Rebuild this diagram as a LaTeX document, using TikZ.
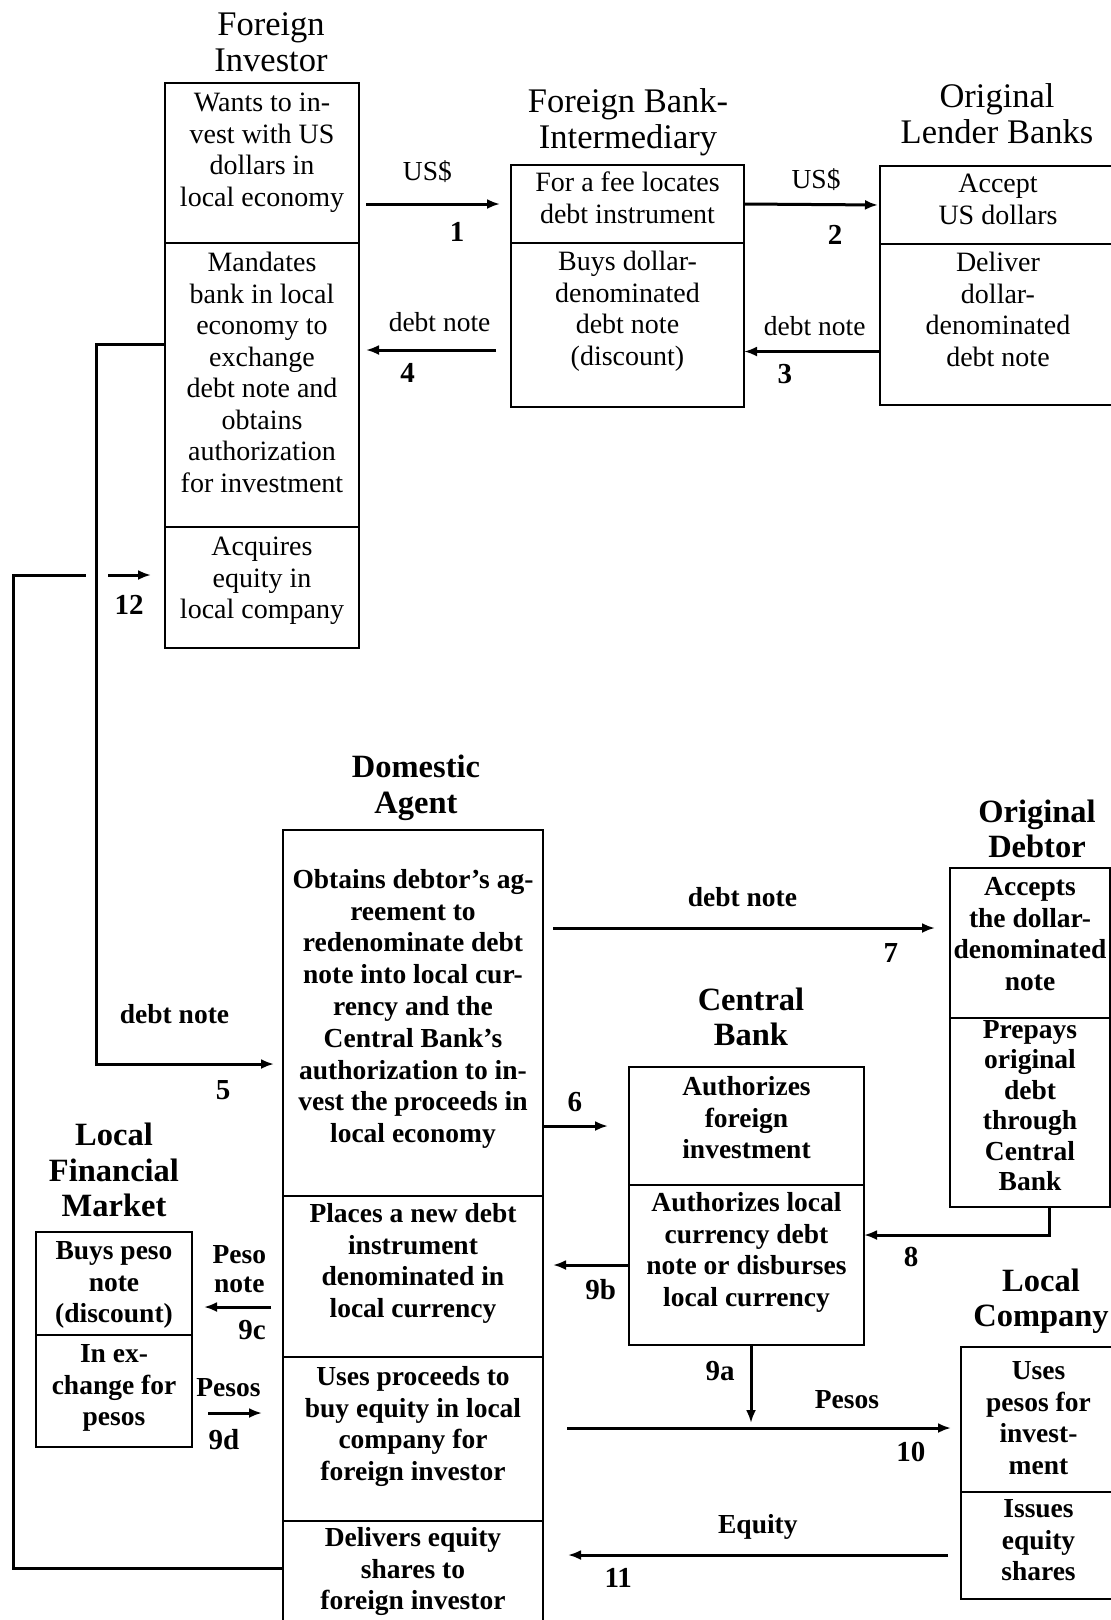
\documentclass[tikz,border=0pt]{standalone}
\usepackage{fontspec}
\setmainfont{Liberation Serif}
\usetikzlibrary{positioning,arrows.meta}

\tikzset{
  cell/.style={draw, line width=1.6pt, outer sep=0pt, inner sep=0pt},
  txt/.style={inner sep=0pt, align=center, font=\fontsize{28}{31.5}\selectfont},
  btxt/.style={inner sep=0pt, align=center, font=\fontsize{27.5}{31.8}\selectfont\bfseries},
  head/.style={inner sep=0pt, align=center, font=\fontsize{34.5}{36}\selectfont},
  bhead/.style={inner sep=0pt, align=center, font=\fontsize{32.5}{35.5}\selectfont\bfseries},
  lab/.style={inner sep=0pt, font=\fontsize{27.5}{29}\selectfont},
  blab/.style={inner sep=0pt, align=center, font=\fontsize{27.5}{28.5}\selectfont\bfseries},
  num/.style={inner sep=0pt, font=\fontsize{29}{30}\selectfont\bfseries},
  flow/.style={line width=3pt, -{Latex[length=13pt,width=10pt]}},
  link/.style={line width=3pt},
}

\begin{document}
\begin{tikzpicture}[x=1pt, y=-1pt]
\useasboundingbox (0,0) rectangle (1111,1620);
\fill[white] (0,0) rectangle (1111,1620);
\clip (0,0) rectangle (1111,1620);

% Foreign investor
\node[head] (invt) at (271,42) {Foreign\\Investor};
\node[cell, minimum width=194pt, minimum height=160pt, anchor=north west] (inv1) at (165,83) {};
\node[cell, minimum width=194pt, minimum height=284pt, below=0pt of inv1] (inv2) {};
\node[cell, minimum width=194pt, minimum height=121pt, below=0pt of inv2] (inv3) {};
\node[txt, below=10pt of inv1.north] (inv1x) {Wants to in-\\vest with US\\dollars in\\local economy};
\node[txt, below=9pt of inv2.north] (inv2x) {Mandates\\bank in local\\economy to\\exchange\\debt note and\\obtains\\authorization\\for investment};
\node[txt, below=10pt of inv3.north] (inv3x) {Acquires\\equity in\\local company};

% Foreign bank
\node[head] (fbit) at (628,122) {Foreign Bank-\\Intermediary};
\node[cell, minimum width=233pt, minimum height=78pt, anchor=north west] (fbi1) at (511,165) {};
\node[cell, minimum width=233pt, minimum height=164pt, below=0pt of fbi1] (fbi2) {};
\node[txt, below=7pt of fbi1.north] (fbi1x) {For a fee locates\\debt instrument};
\node[txt, below=8pt of fbi2.north] (fbi2x) {Buys dollar-\\denominated\\debt note\\(discount)};

% Original lenders
\node[head] (olbt) at (997,114) {Original\\Lender Banks};
\node[cell, minimum width=236pt, minimum height=78pt, anchor=north west] (olb1) at (880,166) {};
\node[cell, minimum width=236pt, minimum height=161pt, below=0pt of olb1] (olb2) {};
\node[txt, below=8pt of olb1.north] (olb1x) {Accept\\US dollars};
\node[txt, below=8pt of olb2.north] (olb2x) {Deliver\\dollar-\\denominated\\debt note};

% Domestic agent
\node[bhead] (dat) at (416,788) {Domestic\\Agent};
\node[cell, minimum width=260pt, minimum height=366pt, anchor=north west] (da1) at (283,830) {};
\node[cell, minimum width=260pt, minimum height=161pt, below=0pt of da1] (da2) {};
\node[cell, minimum width=260pt, minimum height=164pt, below=0pt of da2] (da3) {};
\node[cell, minimum width=260pt, minimum height=120pt, below=0pt of da3] (da4) {};
\node[btxt, below=39pt of da1.north] (da1x) {Obtains debtor's ag-\\reement to\\redenominate debt\\note into local cur-\\rency and the\\Central Bank's\\authorization to in-\\vest the proceeds in\\local economy};
\node[btxt, below=7pt of da2.north] (da2x) {Places a new debt\\instrument\\denominated in\\local currency};
\node[btxt, below=9pt of da3.north] (da3x) {Uses proceeds to\\buy equity in local\\company for\\foreign investor};
\node[btxt, below=6pt of da4.north] (da4x) {Delivers equity\\shares to\\foreign investor};

% Local financial market
\node[bhead] (lfmt) at (114,1170) {Local\\Financial\\Market};
\node[cell, minimum width=156pt, minimum height=103pt, anchor=north west] (lfm1) at (36,1232) {};
\node[cell, minimum width=156pt, minimum height=112pt, below=0pt of lfm1] (lfm2) {};
\node[btxt, below=9pt of lfm1.north] (lfm1x) {Buys peso\\note\\(discount)};
\node[btxt, below=9pt of lfm2.north] (lfm2x) {In ex-\\change for\\pesos};

% Central bank
\node[bhead] (cbt) at (751,1017) {Central\\Bank};
\node[cell, minimum width=235pt, minimum height=118pt, anchor=north west] (cb1) at (629,1067) {};
\node[cell, minimum width=235pt, minimum height=160pt, below=0pt of cb1] (cb2) {};
\node[btxt, below=9pt of cb1.north] (cb1x) {Authorizes\\foreign\\investment};
\node[btxt, below=7pt of cb2.north] (cb2x) {Authorizes local\\currency debt\\note or disburses\\local currency};

% Original debtor
\node[bhead] (odt) at (1037,829) {Original\\Debtor};
\node[cell, minimum width=160pt, minimum height=150pt, anchor=north west] (od1) at (950,868) {};
\node[cell, minimum width=160pt, minimum height=189pt, below=0pt of od1] (od2) {};
\node[btxt, below=9pt of od1.north] (od1x) {Accepts\\the dollar-\\denominated\\note};
\node[btxt, below=2pt of od2.north, font=\fontsize{27.5}{30.5}\selectfont\bfseries] (od2x) {Prepays\\original\\debt\\through\\Central\\Bank};

% Local company
\node[bhead] (lct) at (1041,1301) {Local\\Company};
\node[cell, minimum width=155pt, minimum height=145pt, anchor=north west] (lc1) at (961,1347) {};
\node[cell, minimum width=155pt, minimum height=107pt, below=0pt of lc1] (lc2) {};
\node[btxt, below=14pt of lc1.north] (lc1x) {Uses\\pesos for\\invest-\\ment};
\node[btxt, below=7pt of lc2.north] (lc2x) {Issues\\equity\\shares};

% Flows, top row
\draw[flow, shorten <=7pt, shorten >=11pt] (inv1.east |- fbi1.west) -- node[lab, pos=.45, yshift=32pt] {US\$} node[num, pos=.645, yshift=-28pt] {1} (fbi1.west);
\draw[flow, shorten >=2pt] (fbi1.east) -- node[lab, pos=.53, yshift=25pt] {US\$} node[num, pos=.67, yshift=-30pt] {2} (olb1.west);
\coordinate (a3) at ([yshift=-27pt]olb2.west);
\draw[flow] (a3) -- node[lab, pos=.48, yshift=25pt] {debt note} node[num, pos=.70, yshift=-23pt] {3} (a3 -| fbi2.east);
\coordinate (a4) at ([yshift=-25pt]fbi2.west);
\draw[flow, shorten <=15pt, shorten >=7pt] (a4) -- node[lab, pos=.47, yshift=28pt] {debt note} node[num, pos=.68, yshift=-23pt] {4} (a4 -| inv2.east);

% Investor down to the agent, and back
\coordinate (a5) at ([yshift=41pt]inv2.west);
\coordinate (b5) at ([yshift=-51pt]da1.west);
\draw[flow, shorten >=9pt] (a5) -| ([xshift=-187pt]b5) -- node[blab, pos=.42, yshift=50pt] {debt note} node[num, pos=.68, yshift=-26pt] {5} (b5);
\coordinate (a12) at ([yshift=13pt]da4.west);
\coordinate (b12) at ([yshift=12.5pt]inv3.west);
\draw[link] (a12) -| ([xshift=-152pt]b12) -- ([xshift=-79pt]b12);
\draw[flow, shorten >=14pt] ([xshift=-57pt]b12) -- node[num, pos=.37, yshift=-30pt] {12} (b12);

% Flows, lower part
\draw[flow, shorten >=21pt] (da1.east |- cb1.west) -- node[num, pos=.37, yshift=24pt] {6} (cb1.west);
\coordinate (a7) at ([yshift=15pt]od1.west);
\draw[flow, shorten <=10pt, shorten >=15pt] (a7 -| da1.east) -- node[blab, pos=.49, yshift=31pt] {debt note} node[num, pos=.855, yshift=-25pt] {7} (a7);
\draw[flow] ([xshift=19pt]od2.south) |- node[num, pos=.873, yshift=-22pt] {8} ([yshift=30pt]cb2.east);
\draw[flow, shorten >=10pt] (cb2.west) -- node[num, pos=.33, yshift=-25pt] {9b} (cb2.west -| da2.east);
\coordinate (a9c) at ([yshift=-23.5pt]lfm1.east);
\draw[flow, shorten <=12pt, shorten >=12pt] (a9c -| da2.west) -- node[blab, pos=.48, yshift=38pt] {Peso\\note} node[num, pos=.34, yshift=-23pt] {9c} (a9c);
\coordinate (a9d) at ([yshift=-22pt]lfm2.east);
\draw[flow, shorten <=16pt, shorten >=21pt] (a9d) -- node[blab, pos=.40, yshift=25pt] {Pesos} node[num, pos=.35, yshift=-27pt] {9d} (a9d -| da3.west);
\coordinate (a10) at ([yshift=-8.5pt]lc1.west);
\coordinate (p10) at (a10 -| da3.east);
\draw[flow, shorten <=24pt, shorten >=10pt] (p10) -- node[blab, pos=.727, yshift=28pt] {Pesos} node[num, pos=.88, yshift=-24pt] {10} (a10);
\coordinate (a9a) at ([xshift=4.5pt]cb2.south);
\draw[flow, shorten >=5pt] (a9a) -- node[num, pos=.31, xshift=-31pt] {9a} (a9a |- p10);
\coordinate (a11) at ([yshift=-9.5pt]lc2.west);
\draw[flow, shorten <=13pt, shorten >=25pt] (a11) -- node[blab, pos=.486, yshift=28pt] {Equity} node[num, pos=.82, yshift=-23pt] {11} (a11 -| da4.east);
\end{tikzpicture}
\end{document}
